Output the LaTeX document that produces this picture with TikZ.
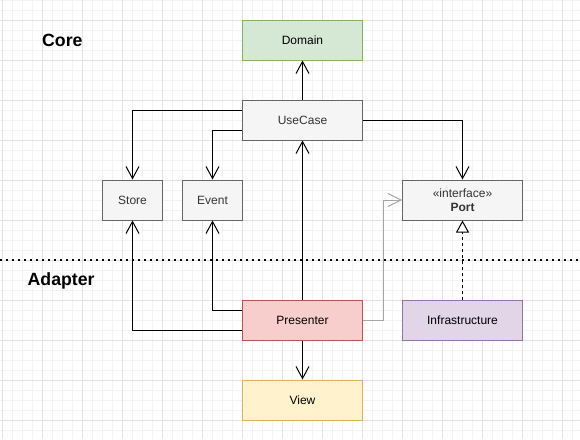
\documentclass[tikz,border=0pt]{standalone}
\usepackage{fontspec}
\setmainfont{Liberation Sans}
\usetikzlibrary{arrows.meta,calc}
\definecolor{gridmajor}{HTML}{E2E2E2}
\definecolor{gridminor}{HTML}{F3F3F3}
\definecolor{grayfill}{HTML}{F5F5F5}
\definecolor{grayline}{HTML}{666666}
\definecolor{graytext}{HTML}{333333}
\definecolor{greenfill}{HTML}{D5E8D4}
\definecolor{greenline}{HTML}{82B366}
\definecolor{redfill}{HTML}{F8CECC}
\definecolor{redline}{HTML}{B85450}
\definecolor{purplefill}{HTML}{E1D5E7}
\definecolor{purpleline}{HTML}{9673A6}
\definecolor{yellowfill}{HTML}{FFF2CC}
\definecolor{yellowline}{HTML}{D6B656}
\definecolor{lightconn}{HTML}{A6A6A6}
\tikzset{
  box/.style={draw, line width=1pt, minimum width=120pt, minimum height=40pt, inner sep=0pt, align=center, font=\fontsize{12}{14}\selectfont},
  smallbox/.style={box, minimum width=60pt},
  graybox/.style={fill=grayfill, draw=grayline, text=graytext},
  greenbox/.style={fill=greenfill, draw=greenline, text=black},
  redbox/.style={fill=redfill, draw=redline, text=black},
  purplebox/.style={fill=purplefill, draw=purpleline, text=black},
  yellowbox/.style={fill=yellowfill, draw=yellowline, text=black},
  conn/.style={draw=black, line width=1pt, -{Straight Barb[length=12pt,width=13pt,line width=1pt]}},
  lightarrow/.style={draw=lightconn, line width=1pt, -{Straight Barb[length=13pt,width=13pt,line width=1pt]}},
  realize/.style={draw=black, line width=1pt, dash pattern=on 3pt off 3pt, -{Triangle[open,length=12pt,width=13pt,line width=1pt,fill=white]}},
  heading/.style={font=\fontsize{17.7}{20}\selectfont\bfseries, anchor=west, inner sep=0pt},
}
\begin{document}
\begin{tikzpicture}[x=1pt,y=-1pt]
\useasboundingbox (0,0) rectangle (580,439);
\fill[white] (0,0) rectangle (580,439);
% grid
\foreach \x in {2.5,12.5,...,580} \draw[gridminor, line width=0.8pt] (\x,0) -- (\x,439);
\foreach \y in {0,10,...,439} \draw[gridminor, line width=0.8pt] (0,\y) -- (580,\y);
\foreach \x in {2.5,42.5,...,580} \draw[gridmajor, line width=1pt] (\x,0) -- (\x,439);
\foreach \y in {20,60,...,439} \draw[gridmajor, line width=1pt] (0,\y) -- (580,\y);

% separator
\coordinate (sepL) at (0,260);
\coordinate (sepR) at (580,260);
\draw[line width=2pt, dash pattern=on 2pt off 4pt] (sepL) -- (sepR);

% headings
\node[heading] (core) at (42,40.5) {Core};
\node[heading] (adapter) at (27.5,280.5) {Adapter};

% nodes
\node[box, greenbox] (domain) at (302.5,40) {Domain};
\node[box, graybox] (usecase) at (302.5,120) {UseCase};
\node[smallbox, graybox] (store) at (132.5,200) {Store};
\node[smallbox, graybox] (event) at (212.5,200) {Event};
\node[box, graybox] (port) at (462.5,200) {«interface»\\\textbf{Port}};
\node[box, redbox] (presenter) at (302.5,320) {Presenter};
\node[box, purplebox] (infra) at (462.5,320) {Infrastructure};
\node[box, yellowbox] (view) at (302.5,400) {View};

% connectors
\draw[conn] (usecase.north) -- (domain.south);
\draw[conn] ([yshift=10pt]usecase.west) -| (store.north);
\draw[conn] ([yshift=-10pt]usecase.west) -| (event.north);
\draw[conn] (usecase.east) -| (port.north);
\draw[conn] (presenter.north) -- (usecase.south);
\draw[conn] ([yshift=10pt]presenter.west) -| (event.south);
\draw[conn] ([yshift=-10pt]presenter.west) -| (store.south);
\draw[conn] (presenter.south) -- (view.north);
\draw[lightarrow] (presenter.east) -- ++(20,0) |- (port.west);
\draw[realize] (infra.north) -- (port.south);
\end{tikzpicture}
\end{document}
